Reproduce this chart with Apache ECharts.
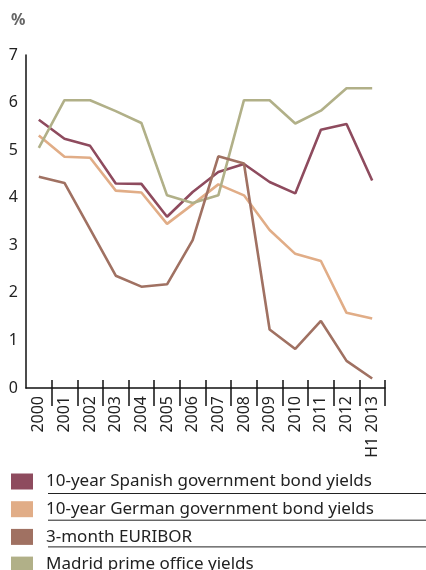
<!DOCTYPE html>
<html>
<head>
<meta charset="utf-8">
<script src="https://cdn.jsdelivr.net/npm/echarts@6/dist/echarts.min.js"></script>
<style>html,body{margin:0;padding:0;background:#fff}#c{width:426px;height:570px}</style>
</head>
<body>
<div id="c"></div>
<script>
const categories = ['2000','2001','2002','2003','2004','2005','2006','2007','2008','2009','2010','2011','2012','H1 2013'];
const seriesNames = ['10-year Spanish government bond yields','10-year German government bond yields','3-month EURIBOR','Madrid prime office yields'];
const spanish = [5.64, 5.24, 5.09, 4.30, 4.29, 3.60, 4.12, 4.54, 4.71, 4.33, 4.09, 5.43, 5.55, 4.36];
const german  = [5.31, 4.86, 4.84, 4.15, 4.11, 3.45, 3.86, 4.28, 4.05, 3.32, 2.82, 2.67, 1.58, 1.46];
const euribor = [4.44, 4.31, 3.34, 2.36, 2.13, 2.18, 3.11, 4.87, 4.72, 1.23, 0.82, 1.41, 0.57, 0.20];
const madrid  = [5.05, 6.05, 6.05, 5.82, 5.57, 4.05, 3.89, 4.05, 6.05, 6.05, 5.56, 5.83, 6.30, 6.30];
const yTicks = [0,1,2,3,4,5,6,7];
const colors = ['#8e4b5e','#e1ad87','#a07162','#b1b088'];
const font = 'Noto Sans';

const chart = echarts.init(document.getElementById('c'), null, {renderer:'canvas'});
const values = [spanish, german, euribor, madrid];
const gridLeft = 26, gridRight = 41, gridTop = 55, gridBottom = 182;
const legendTop = 473, legendGap = 26.7;

chart.setOption({
  animation:false,
  textStyle:{fontFamily:font},
  grid:{left:gridLeft, right:gridRight, top:gridTop, bottom:gridBottom, containLabel:false},
  xAxis:[{
    type:'category', data:categories, boundaryGap:true, position:'bottom',
    axisLine:{show:true, lineStyle:{color:'#111', width:1.5}},
    axisTick:{show:true, length:18, lineStyle:{color:'#111', width:1.5}, interval:(i)=>i>0},
    axisLabel:{rotate:90, interval:0, margin:8, fontSize:16, color:'#222', fontFamily:font},
    splitLine:{show:false}
  },{
    type:'category', data:categories, boundaryGap:true, position:'bottom',
    axisLine:{show:false},
    axisTick:{show:true, inside:true, length:8, lineStyle:{color:'#111', width:1.5}, interval:(i)=>i>0},
    axisLabel:{show:false}, splitLine:{show:false}
  }],
  yAxis:{
    type:'value', min:0, max:7, interval:1,
    axisLine:{show:true, lineStyle:{color:'#111', width:1.5}},
    axisTick:{show:false}, splitLine:{show:false},
    axisLabel:{margin:8, fontSize:16, color:'#222', fontFamily:font,
      formatter:(v)=>yTicks.includes(v)?String(v):''}
  },
  legend:{
    orient:'vertical', left:11, top:legendTop, height:110, itemWidth:22, itemHeight:16,
    itemGap:legendGap-16, icon:'rect', padding:0,
    textStyle:{fontSize:17, color:'#222', fontFamily:font, padding:[0,0,0,8]},
    data:seriesNames
  },
  graphic:[0,1,2].map(i=>({
    type:'line', silent:true,
    shape:{x1:48, y1:legendTop+20.5+i*legendGap, x2:426, y2:legendTop+20.5+i*legendGap},
    style:{stroke:'#222', lineWidth:1}
  })).concat([{
    type:'text', left:11, top:12,
    style:{text:'%', fontSize:16, fontWeight:'bold', fill:'#666', fontFamily:font}
  }]),
  series:seriesNames.map((n,i)=>({
    name:n, type:'line', data:values[i], symbol:'none', showSymbol:false,
    lineStyle:{color:colors[i], width:2.6}, itemStyle:{color:colors[i]}, z:i===2?3:2
  }))
});
</script>
</body>
</html>
